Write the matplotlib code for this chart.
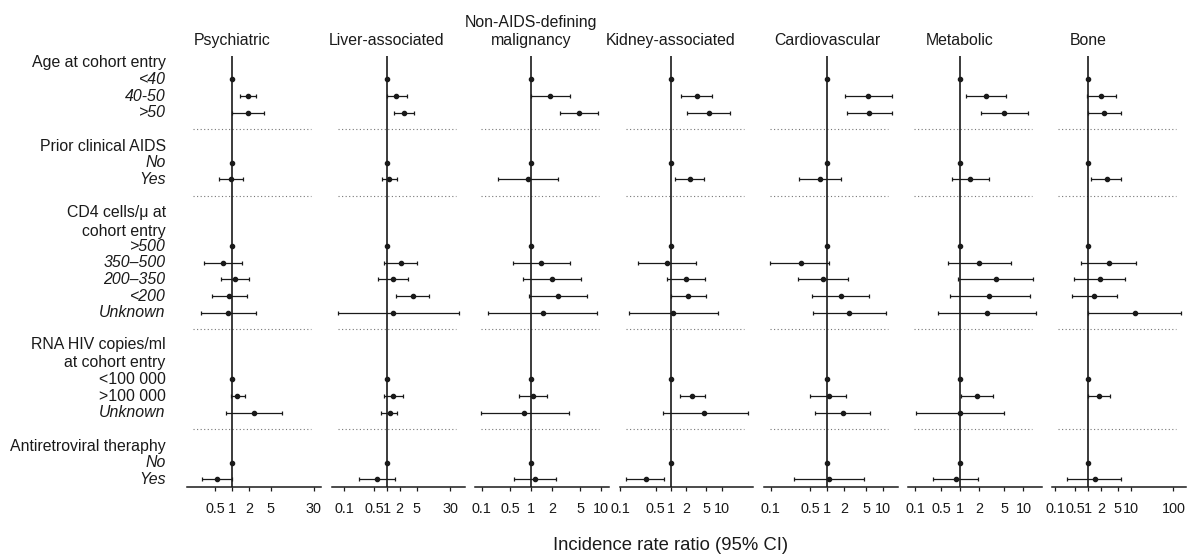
import numpy as np
import matplotlib
matplotlib.use("Agg")
import matplotlib.pyplot as plt
from matplotlib.transforms import blended_transform_factory

plt.rcParams['font.family'] = ['Liberation Sans', 'DejaVu Sans']

nan = np.nan

outcomes = ["Psychiatric", "Liver-associated", "Non-AIDS-defining\nmalignancy",
            "Kidney-associated", "Cardiovascular", "Metabolic", "Bone"]

# level order: <40, 40-50, >50, AIDS No, AIDS Yes, CD4 >500, 350-500, 200-350, <200, Unknown,
#              RNA <100000, >100000, Unknown, ART No, ART Yes
psy_irr = [1, 1.94, 1.94, 1, 0.94, 1, 0.69, 1.12, 0.88, 0.85, 1, 1.25, 2.46, 1, 0.54]
psy_lo = [nan, 1.38, 1.0, nan, 0.58, nan, 0.31, 0.62, 0.43, 0.27, nan, 0.94, 0.77, nan, 0.29]
psy_hi = [nan, 2.75, 3.72, nan, 1.58, nan, 1.51, 1.99, 1.89, 2.75, nan, 1.74, 8.1, nan, 1.0]

liv_irr = [1, 1.65, 2.58, 1, 1.15, 1, 2.13, 1.38, 4.06, 1.38, 1, 1.43, 1.19, 1, 0.58]
liv_lo = [nan, 1.0, 1.48, nan, 0.76, nan, 0.86, 0.62, 1.65, 0.074, nan, 0.88, 0.74, nan, 0.22]
liv_hi = [nan, 2.94, 4.43, nan, 1.77, nan, 5.2, 3.1, 9.9, 47.6, nan, 2.37, 1.77, nan, 1.56]

nad_irr = [1, 1.86, 4.77, 1, 0.9, 1, 1.37, 1.98, 2.45, 1.45, 1, 1.06, 0.79, 1, 1.12]
nad_lo = [nan, 1.0, 2.58, nan, 0.33, nan, 0.54, 0.76, 0.94, 0.24, nan, 0.66, 0.19, nan, 0.56]
nad_hi = [nan, 3.55, 9.0, nan, 2.41, nan, 3.55, 5.15, 6.35, 8.83, nan, 1.68, 3.43, nan, 2.29]

kid_irr = [1, 3.23, 5.5, 1, 2.38, 1, 0.82, 1.98, 2.17, 1.11, 1, 2.64, 4.57, 1, 0.32]
kid_lo = [nan, 1.58, 2.04, nan, 1.22, nan, 0.22, 0.82, 1.0, 0.15, nan, 1.51, 0.68, nan, 0.127]
kid_hi = [nan, 6.4, 14.3, nan, 4.57, nan, 3.09, 4.7, 4.93, 8.65, nan, 4.7, 32.5, nan, 0.73]

car_irr = [1, 5.4, 5.7, 1, 0.76, 1, 0.34, 0.85, 1.78, 2.5, 1, 1.07, 1.9, 1, 1.11]
car_lo = [nan, 2.06, 2.27, nan, 0.32, nan, 0.097, 0.31, 0.54, 0.56, nan, 0.50, 0.62, nan, 0.26]
car_hi = [nan, 14.1, 14.1, nan, 1.78, nan, 1.11, 2.33, 5.7, 11.1, nan, 2.21, 5.77, nan, 4.5]

met_irr = [1, 2.55, 4.95, 1, 1.44, 1, 2.02, 3.66, 2.9, 2.64, 1, 1.83, 1.0, 1, 0.86]
met_lo = [nan, 1.23, 2.15, nan, 0.74, nan, 0.64, 0.92, 0.69, 0.45, nan, 1.04, 0.2, nan, 0.38]
met_hi = [nan, 5.27, 11.6, nan, 2.87, nan, 6.4, 14.4, 12.6, 15.7, nan, 3.28, 4.95, nan, 1.95]

bon_irr = [1, 2.06, 2.38, 1, 2.8, 1, 3.05, 1.87, 1.41, 12.5, 1, 1.85, nan, 1, 1.43]
bon_lo = [nan, 0.95, 1.0, nan, 1.2, nan, 0.68, 0.47, 0.42, 1.0, nan, 1.0, nan, nan, 0.32]
bon_hi = [nan, 4.63, 5.97, nan, 5.97, nan, 13.2, 7.4, 4.9, 148, nan, 3.35, nan, nan, 6.08]

irr_all = [psy_irr, liv_irr, nad_irr, kid_irr, car_irr, met_irr, bon_irr]
lo_all = [psy_lo, liv_lo, nad_lo, kid_lo, car_lo, met_lo, bon_lo]
hi_all = [psy_hi, liv_hi, nad_hi, kid_hi, car_hi, met_hi, bon_hi]

# tick values and labels per panel (as drawn in the original)
tick_vals = [[0.5, 1, 2, 5, 30],
             [0.1, 0.5, 1, 2, 5, 30],
             [0.195, 0.5, 1, 2, 5, 10],
             [0.1, 0.5, 1, 2, 5, 10],
             [0.1, 0.5, 1, 2, 5, 10],
             [0.195, 0.5, 1, 2, 5, 10],
             [0.17, 0.5, 1, 2, 5, 10, 100]]
tick_labs = [["0.5", "1", "2", "5", "30"],
             ["0.1", "0.5", "1", "2", "5", "30"],
             ["0.1", "0.5", "1", "2", "5", "10"],
             ["0.1", "0.5", "1", "2", "5", "10"],
             ["0.1", "0.5", "1", "2", "5", "10"],
             ["0.1", "0.5", "1", "2", "5", "10"],
             ["0.1", "0.5", "1", "2", "5", "10", "100"]]
xlims = [(0.153, 39.6), (0.0515, 68.2), (0.156, 12.8), (0.098, 42.6),
         (0.076, 18.0), (0.152, 19.5), (0.147, 195)]

# rows of the levels (top to bottom)
level_rows = [1, 2, 3, 6, 7, 11, 12, 13, 14, 15, 19, 20, 21, 24, 25]
sep_rows = [4, 8, 16, 22]

row_labels = [
    (0, "Age at cohort entry", "normal"),
    (1, "<40", "italic"), (2, "40-50", "italic"), (3, ">50", "italic"),
    (5, "Prior clinical AIDS", "normal"),
    (6, "No", "italic"), (7, "Yes", "italic"),
    (9, "CD4 cells/\u03bc at", "normal"), (10.1, "cohort entry", "normal"),
    (11, ">500", "italic"), (12, "350\u2013500", "italic"), (13, "200\u2013350", "italic"),
    (14, "<200", "italic"), (15, "Unknown", "italic"),
    (16.9, "RNA HIV copies/ml", "normal"), (18.0, "at cohort entry", "normal"),
    (19, "<100 000", "normal"), (20, ">100 000", "normal"), (21, "Unknown", "italic"),
    (23, "Antiretroviral theraphy", "normal"),
    (24, "No", "italic"), (25, "Yes", "italic"),
]

W, H = 1192, 556
fig = plt.figure(figsize=(W / 100, H / 100), dpi=100)

ax_left_px = [187, 331.7, 475, 620, 764, 908.3, 1052.3]
ax_w_px = 133.5
ax_top_px, ax_bot_px = 56, 486.7

FS = 11.4
TFS = 10.4
col = "#1a1a1a"
axes = []
for i in range(7):
    ax = fig.add_axes([ax_left_px[i] / W, 1 - ax_bot_px / H,
                       ax_w_px / W, (ax_bot_px - ax_top_px) / H])
    axes.append(ax)
    ax.set_xscale("log")
    ax.set_xlim(*xlims[i])
    ax.set_ylim(25.44, -0.4)
    for s in ("left", "top", "right"):
        ax.spines[s].set_visible(False)
    ax.spines["bottom"].set_linewidth(1.1)
    ax.spines["bottom"].set_color(col)
    ax.set_yticks([])
    ax.xaxis.set_minor_locator(matplotlib.ticker.NullLocator())
    ax.set_xticks(tick_vals[i])
    ax.set_xticklabels(tick_labs[i], fontsize=TFS)
    ax.tick_params(axis="x", length=3, width=0.9, pad=8, colors=col)
    ax.patch.set_alpha(0)

    for r in sep_rows:
        ax.axhline(r, xmin=0.045, xmax=0.93, color="#777777", lw=0.8,
                   linestyle=(0, (1, 2.2)))
    ax.axvline(1, color=col, lw=1.2, zorder=2)

    irr = np.array(irr_all[i], dtype=float)
    lo = np.array(lo_all[i], dtype=float)
    hi = np.array(hi_all[i], dtype=float)
    rows = np.array(level_rows)
    m = ~np.isnan(lo)
    ax.errorbar(irr[m], rows[m], xerr=[irr[m] - lo[m], hi[m] - irr[m]],
                fmt="o", color=col, ms=3.0, elinewidth=0.9, capsize=1.3,
                capthick=0.9, zorder=3)
    mr = np.isnan(lo) & ~np.isnan(irr)
    ax.plot(irr[mr], rows[mr], "o", color=col, ms=3.0, zorder=3)

    tr = blended_transform_factory(ax.transData, ax.transAxes)
    ax.text(1, 1.018, outcomes[i], transform=tr, ha="center", va="bottom",
            fontsize=FS, color=col, linespacing=1.3)

tr0 = blended_transform_factory(fig.transFigure, axes[0].transData)
for r, t, st in row_labels:
    axes[0].text(165.7 / W, r, t, transform=tr0, ha="right", va="center",
                 fontsize=FS, style=st, color=col, clip_on=False)

fig.text(671 / W, 1 - 546 / H, "Incidence rate ratio (95% CI)", ha="center",
         va="center", fontsize=13.3, color=col)

fig.savefig("out.png", dpi=100)
